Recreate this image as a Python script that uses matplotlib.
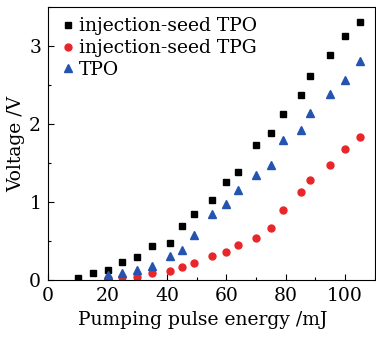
import matplotlib
matplotlib.use("Agg")
import matplotlib.pyplot as plt
from matplotlib.ticker import MultipleLocator

plt.rcParams["font.family"] = ["DejaVu Serif"]

energy = [10, 15, 20, 25, 30, 35, 41, 45, 49, 55, 60, 64, 70, 75, 79, 85, 88, 95, 100, 105]
seed_tpo = [0.03, 0.09, 0.13, 0.23, 0.29, 0.43, 0.47, 0.69, 0.85, 1.03, 1.25, 1.38,
            1.73, 1.88, 2.13, 2.37, 2.62, 2.88, 3.13, 3.31]

energy_g = [20, 25, 30, 35, 41, 45, 49, 55, 60, 64, 70, 75, 79, 85, 88, 95, 100, 105]
seed_tpg = [0.03, 0.04, 0.04, 0.09, 0.12, 0.16, 0.22, 0.30, 0.36, 0.45, 0.54, 0.67,
            0.90, 1.13, 1.28, 1.47, 1.68, 1.83]
tpo = [0.06, 0.09, 0.13, 0.18, 0.30, 0.38, 0.57, 0.84, 0.97, 1.15, 1.34, 1.48,
       1.79, 1.92, 2.14, 2.39, 2.57, 2.81]

fig = plt.figure(figsize=(3.76, 3.38), dpi=100)
ax = fig.add_axes([0.128, 0.172, 0.869, 0.807])

ax.plot(energy, seed_tpo, "s", color="black", ms=4, label="injection-seed TPO")
ax.plot(energy_g, seed_tpg, "o", color="#e8262a", ms=5, label="injection-seed TPG")
ax.plot(energy_g, tpo, "^", color="#2554b0", ms=5.5, label="TPO")

ax.set_xlim(0, 110)
ax.set_ylim(0, 3.5)
ax.xaxis.set_major_locator(MultipleLocator(20))
ax.xaxis.set_minor_locator(MultipleLocator(10))
ax.yaxis.set_major_locator(MultipleLocator(1))
ax.yaxis.set_minor_locator(MultipleLocator(0.5))
ax.tick_params(which="both", direction="in", labelsize=13.5, top=False, right=False)
ax.tick_params(which="major", length=4, width=0.8, pad=5)
ax.tick_params(which="minor", length=2.5, width=0.8)

ax.set_xlabel("Pumping pulse energy /mJ", fontsize=13.5, labelpad=1)
ax.set_ylabel("Voltage /V", fontsize=13.5, labelpad=3)
ax.xaxis.set_label_coords(0.473, -0.1, transform=ax.transAxes)
ax.xaxis.label.set_va("top")
ax.xaxis.set_label_coords(0.473, -0.115)

ax.legend(loc="upper left", frameon=False, fontsize=13.5, handletextpad=0.1,
          handlelength=1.0, labelspacing=0.2, borderaxespad=0.35, borderpad=0.2)

fig.savefig("out.png", dpi=100)
